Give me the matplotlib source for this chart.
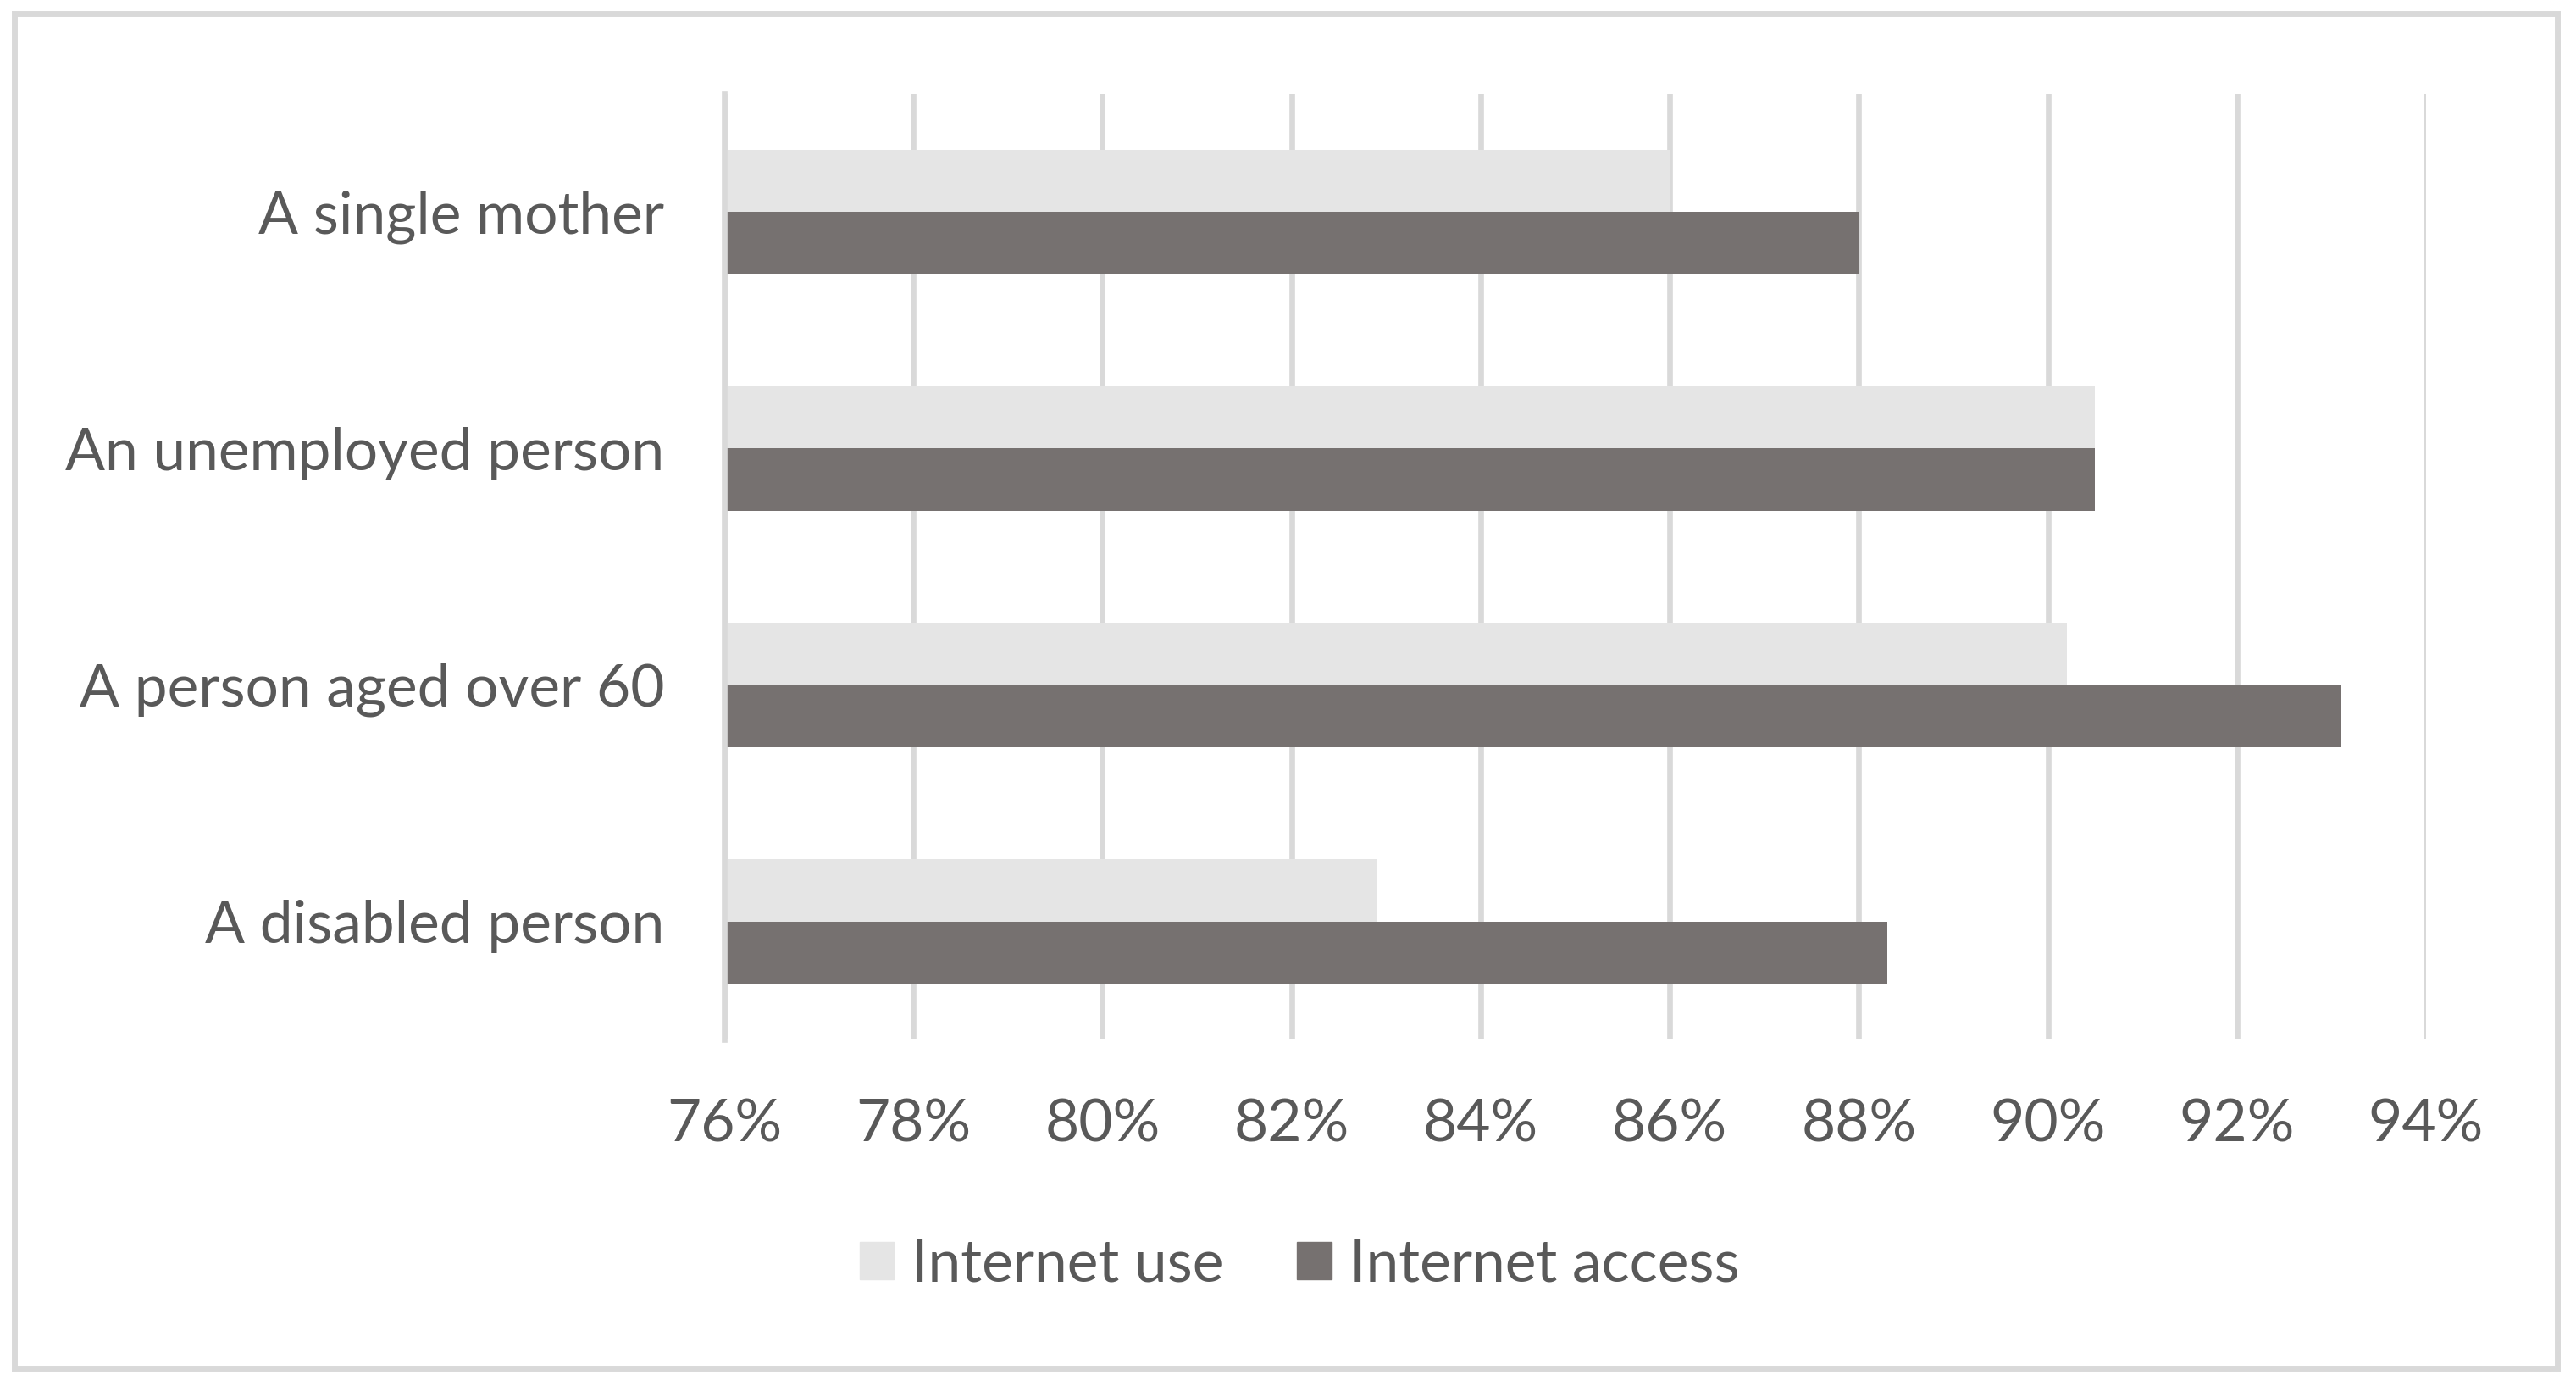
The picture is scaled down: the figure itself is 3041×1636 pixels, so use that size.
import matplotlib
matplotlib.use("Agg")
from matplotlib import pyplot as plt
from matplotlib.patches import Rectangle, Patch
from matplotlib.ticker import FuncFormatter
import numpy as np

# data
categories = ["A disabled person", "A person aged over 60",
              "An unemployed person", "A single mother"]
internet_use = [82.9, 90.2, 90.5, 86.0]
internet_access = [88.3, 93.1, 90.5, 88.0]
x_ticks = [76, 78, 80, 82, 84, 86, 88, 90, 92, 94]

plt.rcParams['font.family'] = ['Lato', 'DejaVu Sans']
TEXT = "#595959"
GRID = "#d9d9d9"
C_USE = "#e5e5e5"
C_ACC = "#767170"
FS = 50

W, H = 3041, 1636
fig = plt.figure(figsize=(W / 100, H / 100), dpi=100)
ax = fig.add_axes([855 / W, 1 - 1227 / H, (2864 - 855) / W, (1227 - 111) / H])

y = np.arange(len(categories))
bh = 0.265
ax.barh(y + bh / 2, np.array(internet_use) - 76, left=76, height=bh,
        color=C_USE, label="Internet use", zorder=3)
ax.barh(y - bh / 2, np.array(internet_access) - 76, left=76, height=bh,
        color=C_ACC, label="Internet access", zorder=3)

ax.set_xlim(76, 94)
ax.set_ylim(-0.5, len(categories) - 0.5)
ax.set_xticks(x_ticks)
ax.xaxis.set_major_formatter(FuncFormatter(lambda v, p: f"{v:.0f}%"))
ax.set_yticks(y)
ax.set_yticklabels(categories)
ax.tick_params(axis='both', length=0, labelsize=FS, labelcolor=TEXT)
ax.tick_params(axis='x', pad=50)
ax.tick_params(axis='y', pad=51)
ax.grid(axis='x', color=GRID, linewidth=4.8, zorder=0)
for s in ["top", "right", "bottom"]:
    ax.spines[s].set_visible(False)
ax.spines["left"].set_color(GRID)
ax.spines["left"].set_linewidth(4.8)
ax.spines["left"].set_zorder(4)

handles = [Patch(color=C_USE, label="Internet use"),
           Patch(color=C_ACC, label="Internet access")]
fig.legend(handles=handles, loc="center", bbox_to_anchor=(0.5045, 1 - 1493 / H),
           ncol=2, frameon=False, fontsize=FS, labelcolor=TEXT,
           handlelength=0.58, handleheight=0.58, handletextpad=0.3,
           columnspacing=1.25)

# outer chart border
fig.patches.append(Rectangle((17 / W, 1 - 1615 / H), (3019 - 17) / W, (1615 - 16) / H,
                             transform=fig.transFigure, fill=False,
                             edgecolor=GRID, linewidth=5))

fig.savefig("out.png", dpi=100)
